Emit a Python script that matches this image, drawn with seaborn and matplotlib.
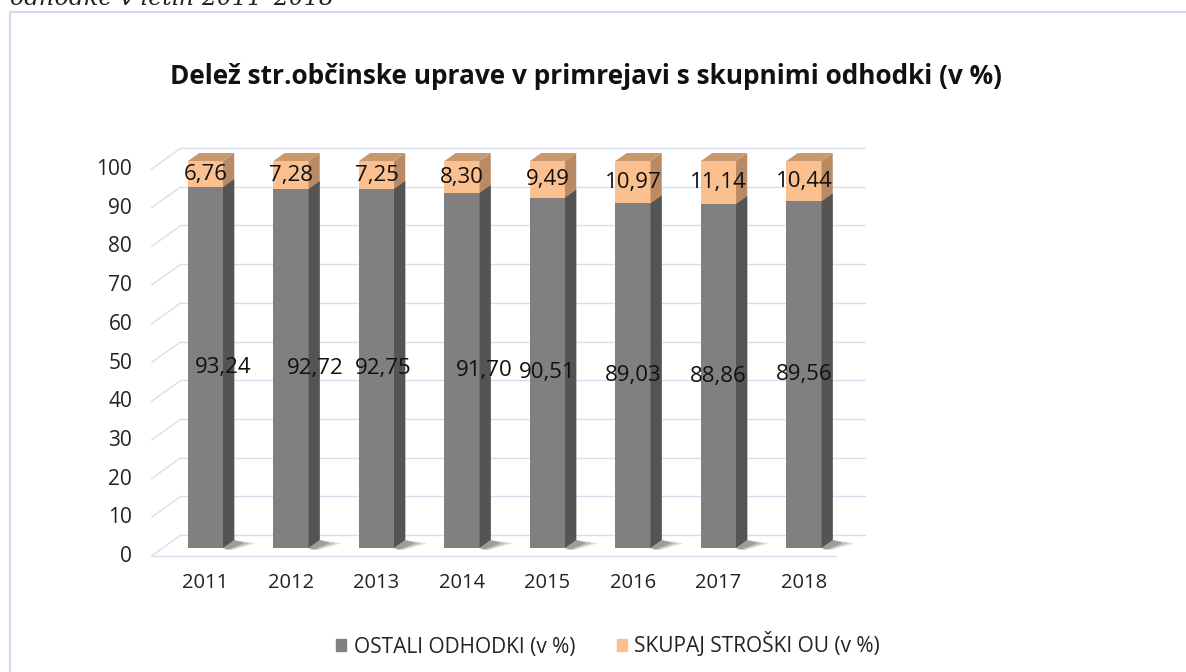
import numpy as np
import matplotlib
matplotlib.use('Agg')
import matplotlib.pyplot as plt
import seaborn as sns
from matplotlib.patches import Polygon, Patch, Rectangle
from matplotlib.transforms import ScaledTranslation

# podatki
years = ['2011', '2012', '2013', '2014', '2015', '2016', '2017', '2018']
ostali = [93.24, 92.72, 92.75, 91.70, 90.51, 89.03, 88.86, 89.56]
skupaj = [6.76, 7.28, 7.25, 8.30, 9.49, 10.97, 11.14, 10.44]
yticks = [0, 10, 20, 30, 40, 50, 60, 70, 80, 90, 100]

title = 'Delež str.občinske uprave v primrejavi s skupnimi odhodki (v %)'
caption = 'odhodke v letih 2011–2018'
leg_labels = ['OSTALI ODHODKI (v %)', 'SKUPAJ STROŠKI OU (v %)']

# barve
GRAY = '#808080'
GRAY_SIDE = '#545454'
ORANGE = '#FAC090'
ORANGE_SIDE = '#B98A64'
ORANGE_TOP = '#C9986E'
GRID = '#D5DFF0'

sns.set_style('white')
plt.rcParams['font.family'] = ['Open Sans', 'DejaVu Sans']

DPI = 100
fig = plt.figure(figsize=(11.86, 6.72), dpi=DPI)
ax = fig.add_axes([0.13723, 0.18452, 0.57673, 0.57589])

totals = [a + b for a, b in zip(ostali, skupaj)]
sns.barplot(x=years, y=totals, color=ORANGE, width=0.41, linewidth=0,
            saturation=1, ax=ax, zorder=3)
sns.barplot(x=years, y=ostali, color=GRAY, width=0.41, linewidth=0,
            saturation=1, ax=ax, zorder=4)
ax.set_xlim(-0.5, len(years) - 0.5)
ax.set_ylim(0, 100)
for s in ax.spines.values():
    s.set_visible(False)
ax.set_xlabel('')
ax.set_ylabel('')

# pseudo 3D: premik v globino (px -> podatkovne enote)
p0 = ax.transData.transform((0, 0))
p1 = ax.transData.transform((1, 1))
ux, uy = p1[0] - p0[0], p1[1] - p0[1]
K = 1.4


def off(d):
    return K * d / ux, d / uy


x_lo, x_hi = ax.get_xlim()
# zadnja stena in diagonale
bx, by = off(13)
fx, fy = off(-8)
for v in yticks:
    ax.plot([x_lo + bx, x_hi + bx], [v + by, v + by], color=GRID, lw=1.0,
            zorder=1, clip_on=False)
    ax.plot([x_lo + fx, x_lo + bx], [v + fy, v + by], color=GRID, lw=1.0,
            zorder=1, clip_on=False)
# tla
ax.plot([x_lo + fx, x_hi + fx], [fy, fy], color=GRID, lw=1.0, zorder=1, clip_on=False)

# stranske in zgornje ploskve stolpcev
dx, dy = off(8)
n = len(years)
for i, p in enumerate(ax.patches):
    x0, y0 = p.get_x(), p.get_y()
    w, h = p.get_width(), p.get_height()
    top_part = i < n
    side_c = ORANGE_SIDE if top_part else GRAY_SIDE
    z = 3.5 if top_part else 4.5
    side = Polygon([(x0 + w, y0), (x0 + w + dx, y0 + dy), (x0 + w + dx, y0 + h + dy),
                    (x0 + w, y0 + h)], closed=True, color=side_c, lw=0, zorder=z,
                   clip_on=False)
    ax.add_patch(side)
    if top_part:
        top = Polygon([(x0, y0 + h), (x0 + dx, y0 + h + dy), (x0 + w + dx, y0 + h + dy),
                       (x0 + w, y0 + h)], closed=True, color=ORANGE_TOP, lw=0,
                      zorder=z, clip_on=False)
        ax.add_patch(top)
    else:
        # senca na tleh
        for k, a in enumerate([0.12, 0.14, 0.18]):
            ex = (22 - 6 * k) / ux
            shadow = Polygon([(x0 + w, y0), (x0 + w + dx, y0 + dy),
                              (x0 + w + dx + ex, y0 + dy * 0.6),
                              (x0 + w + ex * 0.4, y0 - 2 / uy)],
                             closed=True, color='#000000', alpha=a, lw=0, zorder=2,
                             clip_on=False)
            ax.add_patch(shadow)

# oznake vrednosti
nudge = [18, 24, 7, 22, 0, 0, 0, 0]
for i in range(n):
    ax.text(i + nudge[i] / ux, ostali[i] / 2, f'{ostali[i]:.2f}'.replace('.', ','),
            ha='center', va='center', fontsize=16, color='#111111', zorder=10)
    ax.text(i, ostali[i] + skupaj[i] / 2, f'{skupaj[i]:.2f}'.replace('.', ','),
            ha='center', va='center', fontsize=16, color='#111111', zorder=10)

# osi
ax.set_yticks(yticks)
ax.set_yticklabels([str(v) for v in yticks])
ax.tick_params(axis='y', length=0, pad=22, labelsize=15, labelcolor='#222222')
ax.tick_params(axis='x', length=0, pad=18, labelsize=14.5, labelcolor='#222222')
for lab in ax.get_yticklabels():
    lab.set_transform(lab.get_transform() + ScaledTranslation(0, -6 / DPI, fig.dpi_scale_trans))

# naslov in napis nad grafom
fig.text(170 / 1186, 1 - 77 / 672, title, fontsize=18.9, fontweight='bold',
         ha='left', va='center', color='#111111')
fig.text(10 / 1186, 1 - 5 / 672, caption, fontsize=17, style='italic',
         family='DejaVu Serif', ha='left', va='baseline', color='#222222')

# okvir grafa
fig.patches.append(Rectangle((10 / 1186, -0.05), 1.2, 1 - 12 / 672 + 0.05,
                             transform=fig.transFigure, fill=False,
                             edgecolor='#CFDCEE', lw=1.5))

# legenda
handles = [Patch(color=GRAY), Patch(color=ORANGE)]
fig.legend(handles, leg_labels, loc='center', bbox_to_anchor=(608 / 1186, 27 / 672),
           ncol=2, frameon=False, fontsize=15, handlelength=0.5, handleheight=0.5,
           handletextpad=0.35, columnspacing=2.0, labelcolor='#222222')

fig.savefig('out.png', dpi=DPI)
